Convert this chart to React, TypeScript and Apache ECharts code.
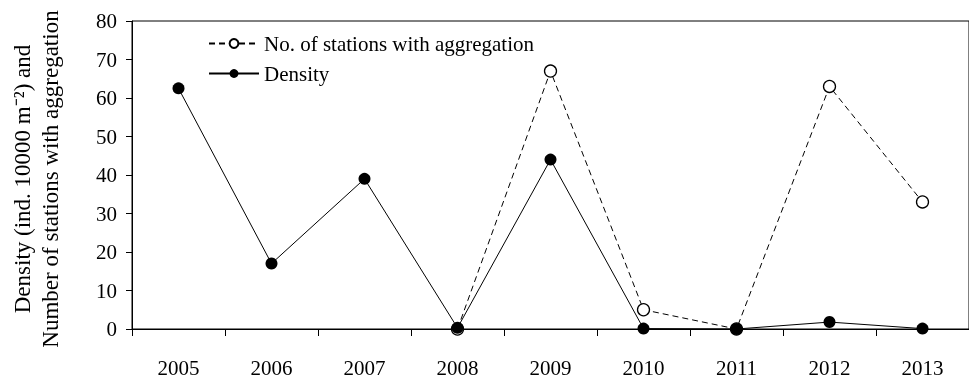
import React, { useEffect, useRef } from "react";
import * as echarts from "echarts";

const years = ["2005", "2006", "2007", "2008", "2009", "2010", "2011", "2012", "2013"];
const density = [62.5, 17, 39, 0.3, 44, 0.1, 0, 1.8, 0.1];
const stations = [null, null, null, 0, 67, 5, 0, 63, 33];
const yTitleLines = ["Density (ind. 10000 m\u207B\u00B2) and", "Number of stations with aggregation"];

const FONT = "Liberation Serif";

export default function App() {
  const ref = useRef<HTMLDivElement>(null);
  useEffect(() => {
    if (!ref.current) return;
    const chart = echarts.init(ref.current, undefined, { renderer: "svg" });
    chart.setOption({
      animation: false,
      textStyle: { fontFamily: FONT, color: "#000" },
      grid: {
        left: 132,
        top: 21,
        right: -9,
        bottom: 54,
        show: true,
        borderColor: "#000",
        borderWidth: 1,
        backgroundColor: "transparent",
      },
      legend: {
        orient: "vertical",
        left: 203,
        top: 28,
        itemWidth: 50,
        itemHeight: 11,
        itemGap: 9,
        textStyle: { fontFamily: FONT, fontSize: 21, color: "#000" },
        data: ["No. of stations with aggregation", "Density"],
      },
      xAxis: {
        type: "category",
        data: years,
        boundaryGap: true,
        axisLine: { lineStyle: { color: "#000", width: 1 } },
        axisTick: { show: true, length: 7, inside: false, lineStyle: { color: "#000" } },
        axisLabel: { fontFamily: FONT, fontSize: 21, color: "#000", margin: 28 },
        splitLine: { show: false },
      },
      yAxis: {
        type: "value",
        min: 0,
        max: 80,
        interval: 10,
        axisLine: { show: true, lineStyle: { color: "#000", width: 1 } },
        axisTick: { show: true, length: 6, lineStyle: { color: "#000" } },
        axisLabel: { fontFamily: FONT, fontSize: 21, color: "#000", margin: 15 },
        splitLine: { show: false },
      },
      graphic: [
        {
          type: "text",
          x: 36,
          y: 179,
          rotation: Math.PI / 2,
          style: {
            text: yTitleLines.join("\n"),
            fontFamily: FONT,
            fontSize: 23,
            lineHeight: 28,
            fill: "#000",
            align: "center",
            verticalAlign: "middle",
          },
        },
      ],
      series: [
        {
          name: "No. of stations with aggregation",
          type: "line",
          data: stations,
          connectNulls: false,
          symbol: "circle",
          symbolSize: 12,
          showAllSymbol: true,
          lineStyle: { color: "#000", width: 1, type: [6, 4] },
          itemStyle: { color: "#fff", borderColor: "#000", borderWidth: 1.3 },
          z: 2,
        },
        {
          name: "Density",
          type: "line",
          data: density,
          symbol: "circle",
          symbolSize: 12,
          showAllSymbol: true,
          lineStyle: { color: "#000", width: 1 },
          itemStyle: { color: "#000", borderColor: "#000", borderWidth: 0 },
          z: 3,
        },
      ],
    });
    return () => chart.dispose();
  }, []);
  return (
    <div
      ref={ref}
      style={{ position: "fixed", left: 0, top: 0, width: 969, height: 383 }}
    />
  );
}
